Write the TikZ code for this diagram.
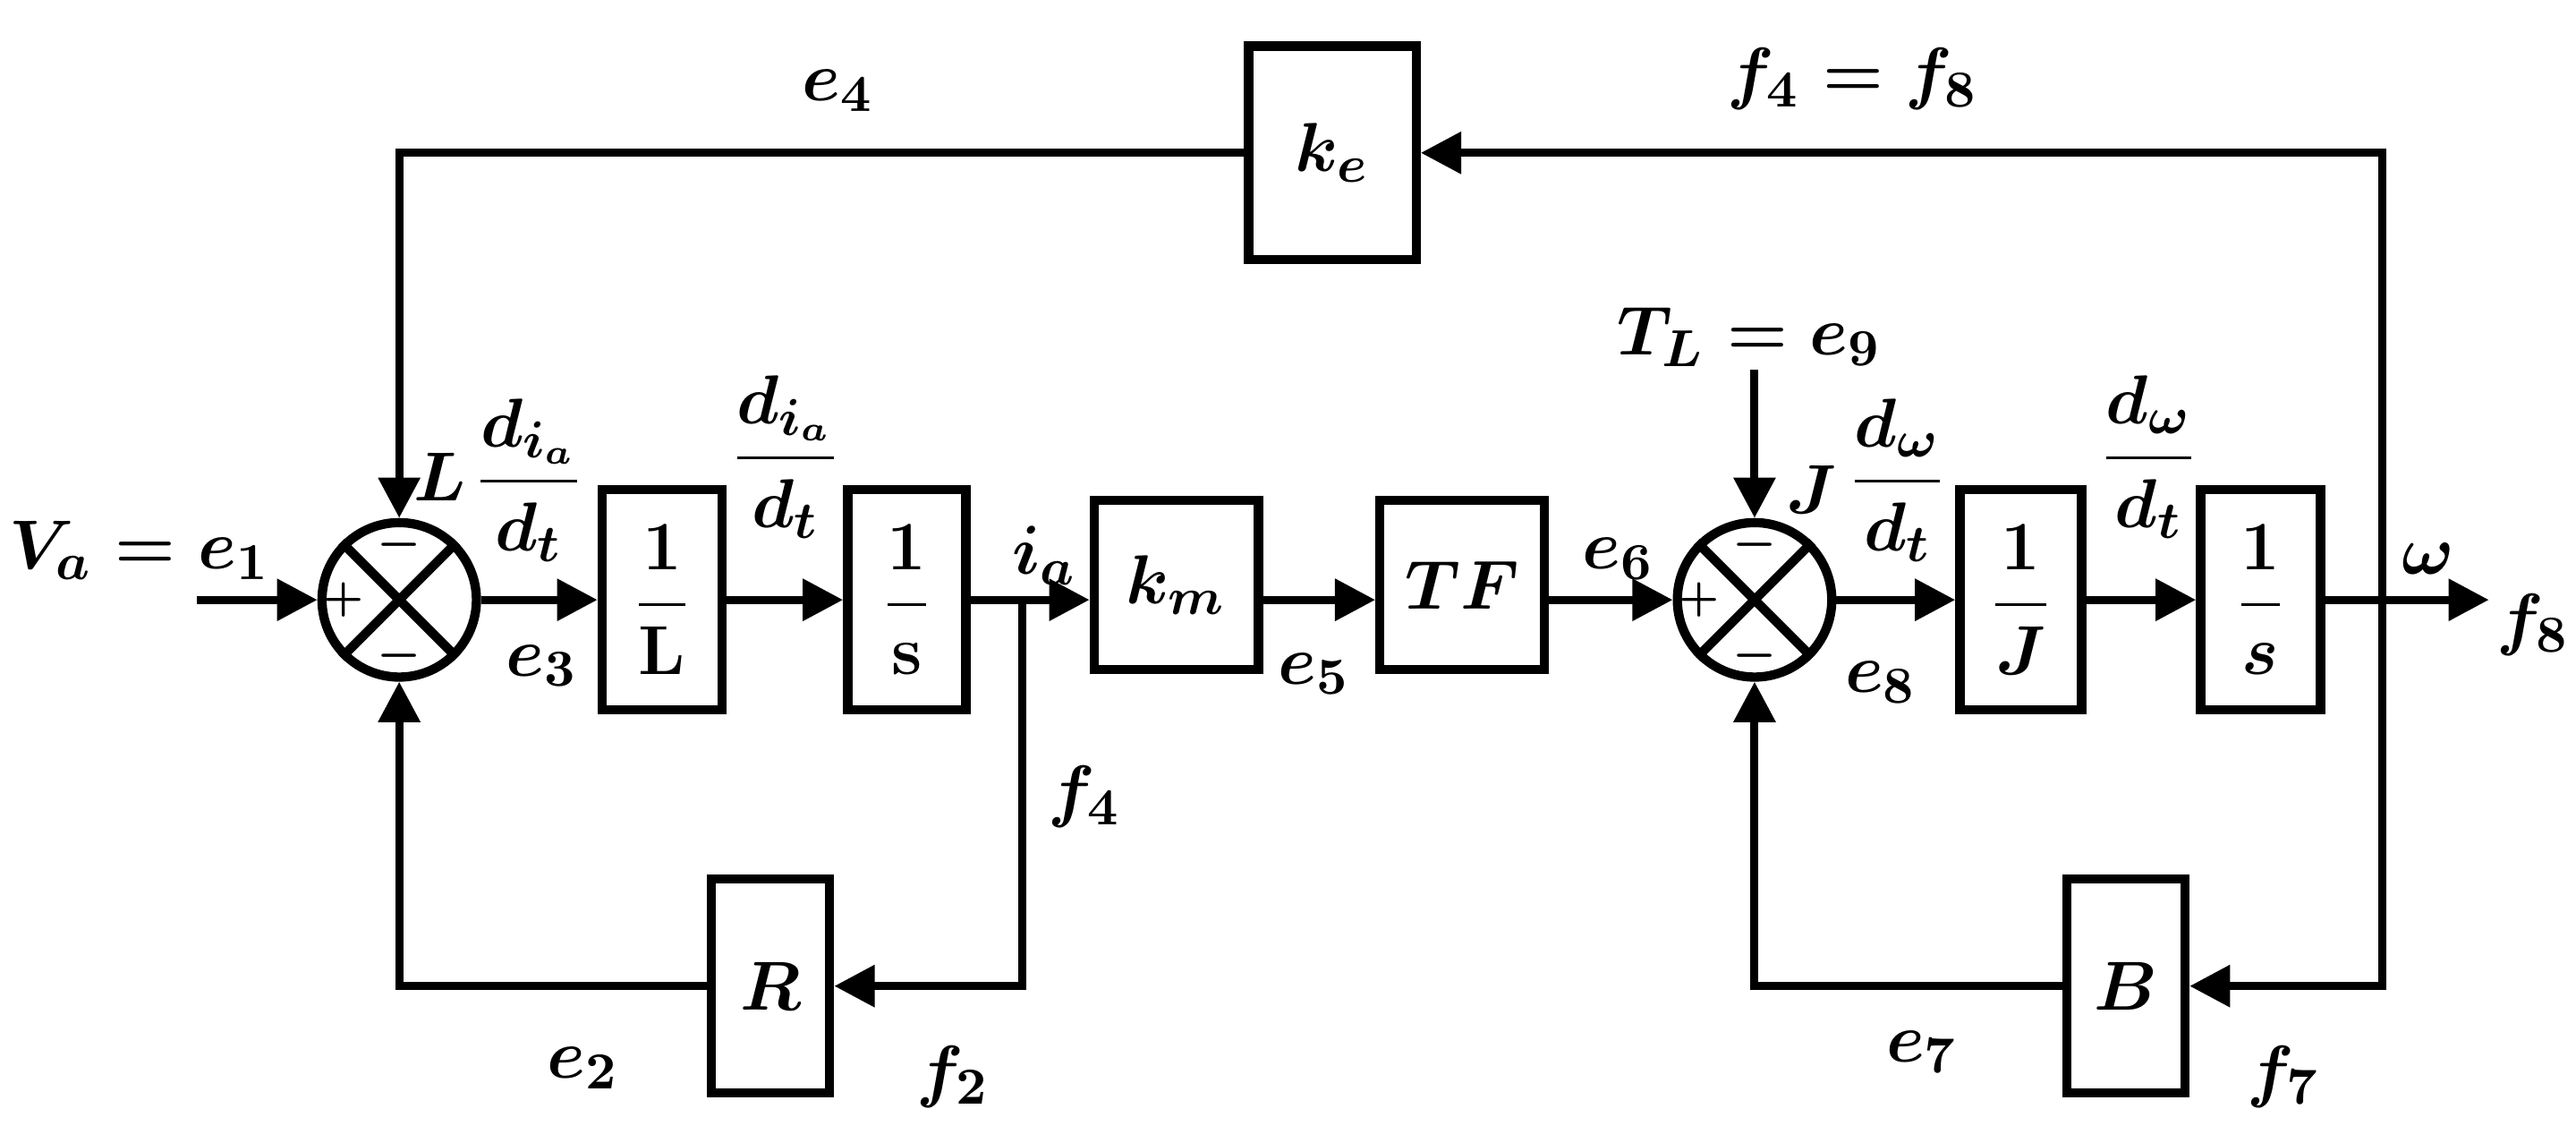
\documentclass[tikz,border=0pt]{standalone}
\usepackage{amsmath}
\usetikzlibrary{arrows.meta}
\begin{document}
\begin{tikzpicture}[x=0.1mm,y=-0.1mm,line width=1.4pt,
  >={Triangle[length=7pt,width=7pt]},
  blk/.style={draw,line width=1.6pt,inner sep=0pt},
  sum/.style={draw,circle,line width=1.6pt,minimum size=9.4mm,inner sep=0pt}]
\useasboundingbox (0,0) rectangle (1568,695);
\tikzset{every node/.append style={font=\fontsize{13}{15}\selectfont\boldmath}}
% summers
\node[sum] (s1) at (243,365) {};
\node[sum] (s2) at (1068,365) {};
\foreach \s in {s1,s2}{
  \draw[line width=1.6pt] (\s.north east)--(\s.south west) (\s.north west)--(\s.south east);
  \node[font=\fontsize{8}{9}\selectfont\boldmath,inner sep=0pt] at ([yshift=-1.6mm]\s.north) {$-$};
  \node[font=\fontsize{8}{9}\selectfont\boldmath,inner sep=0pt] at ([yshift=1.6mm]\s.south) {$-$};
  \node[font=\fontsize{7}{8}\selectfont\bfseries,inner sep=0pt] at ([xshift=1.6mm]\s.west) {+};
}
% blocks
\node[blk,minimum width=7.3mm,minimum height=13.4mm] (iL) at (403,365) {$\dfrac{\mathbf{1}}{\mathbf{L}}$};
\node[blk,minimum width=7.2mm,minimum height=13.4mm] (is1) at (552,365) {$\dfrac{\mathbf{1}}{\mathbf{s}}$};
\node[blk,minimum width=10mm,minimum height=10.3mm] (km) at (716,356) {$k_m$};
\node[blk,minimum width=10mm,minimum height=10.3mm] (tf) at (890,356) {$TF$};
\node[blk,minimum width=7.4mm,minimum height=13.4mm] (iJ) at (1230,365) {$\dfrac{\mathbf{1}}{J}$};
\node[blk,minimum width=7.3mm,minimum height=13.4mm] (is2) at (1376,365) {$\dfrac{\mathbf{1}}{s}$};
\node[blk,minimum width=10.2mm,minimum height=13mm] (ke) at (811,93) {$k_e$};
\node[blk,minimum width=7.2mm,minimum height=13mm] (R) at (469,600) {$R$};
\node[blk,minimum width=7.2mm,minimum height=13mm] (B) at (1294,600) {$B$};
% coordinates
\coordinate (in) at (120,365);
\coordinate (out) at (1515,365);
\coordinate (br1) at (622,365);
\coordinate (br2) at (1450,365);
\coordinate (tl) at (1068,225);
% connectors
\draw[->] (in) -- (s1.west);
\draw[->] (s1.east) -- (iL.west);
\draw[->] (iL.east) -- (is1.west);
\draw[->] (is1.east) -- (km.west|-is1.east);
\draw[->] (km.east|-is1) -- (tf.west|-is1);
\draw[->] (tf.east|-s2) -- (s2.west);
\draw[->] (s2.east) -- (iJ.west);
\draw[->] (iJ.east) -- (is2.west);
\draw[->] (is2.east) -- (out);
\draw[->] (br2) |- (ke.east);
\draw[->] (ke.west) -| (s1.north);
\draw[->] (br1) |- (R.east);
\draw[->] (R.west) -| (s1.south);
\draw[->] (br2) |- (B.east);
\draw[->] (B.west) -| (s2.south);
\draw[->] (tl) -- (s2.north);
% labels
\node at (510,55) {$e_4$};
\node at (1128,48) {$f_4=f_8$};
\node at (1065,205) {$T_L=e_9$};
\node at (85,335) {$V_a=e_1$};
\node at (268,290) {$L$};
\node at (322,292) {$\dfrac{d_{i_a}}{d_t}$};
\node at (478,278) {$\dfrac{d_{i_a}}{d_t}$};
\node at (330,405) {$e_3$};
\node at (636,338) {$i_a$};
\node at (800,410) {$e_5$};
\node at (985,340) {$e_6$};
\node at (660,485) {$f_4$};
\node at (355,650) {$e_2$};
\node at (580,655) {$f_2$};
\node at (1103,298) {$J$};
\node at (1155,292) {$\dfrac{d_\omega}{d_t}$};
\node at (1308,278) {$\dfrac{d_\omega}{d_t}$};
\node at (1145,415) {$e_8$};
\node at (1478,340) {$\omega$};
\node at (1542,380) {$f_8$};
\node at (1170,640) {$e_7$};
\node at (1390,655) {$f_7$};
\end{tikzpicture}
\end{document}
